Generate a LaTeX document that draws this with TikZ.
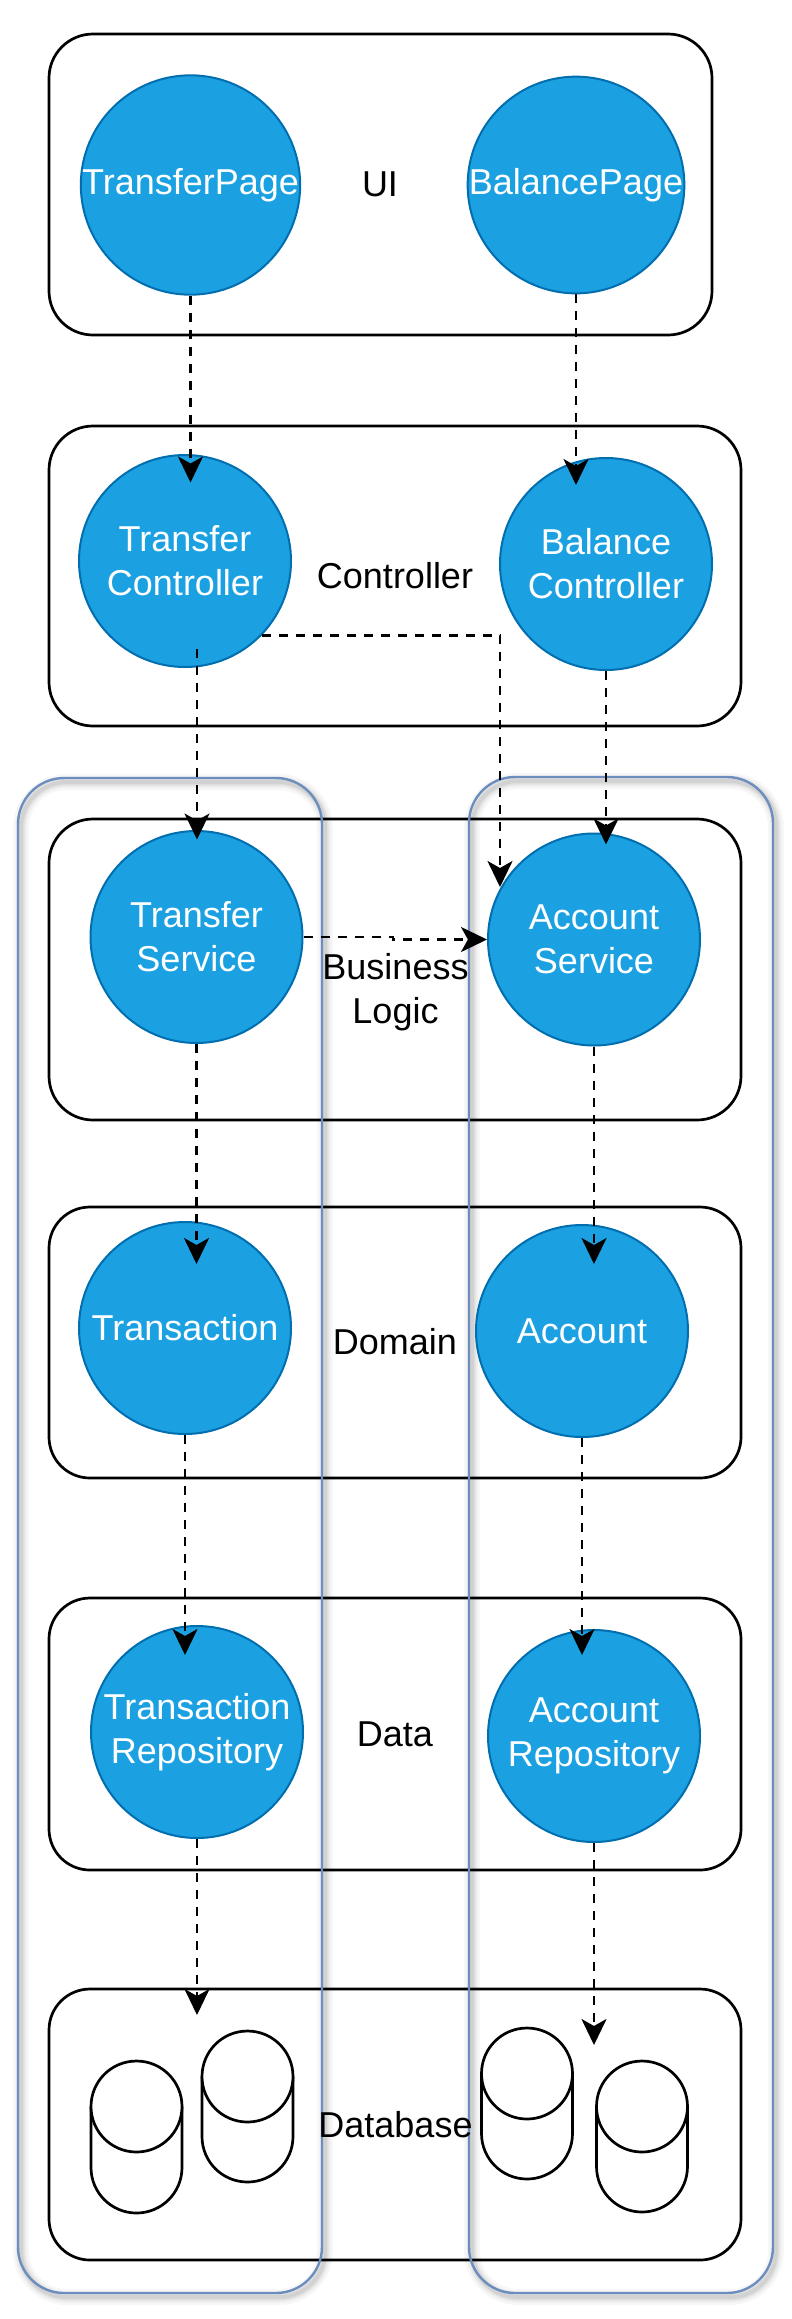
\documentclass[tikz,border=0pt]{standalone}
\usepackage{fontspec}
\setmainfont{Liberation Sans}
\usetikzlibrary{arrows.meta}
\definecolor{svcfill}{HTML}{1BA1E2}
\definecolor{svcline}{HTML}{006EAF}
\definecolor{grpblue}{HTML}{6C8EBF}
\tikzset{
  layerbox/.style={draw=black, line width=2.7pt, fill=white},
  grpbox/.style={draw=grpblue, line width=2.4pt, rounded corners=46pt},
  grpshadow/.style={draw=black, rounded corners=46pt},
  svc/.style={circle, draw=svcline, fill=svcfill, line width=2pt, minimum size=212pt,
    inner sep=0pt, text=white, align=center, font=\fontsize{36}{44}\selectfont},
  lbl/.style={text=black, align=center, inner sep=0pt, font=\fontsize{36}{44}\selectfont},
  flow/.style={line width=2.6pt, dash pattern=on 9pt off 8pt,
    -{Stealth[length=26pt, width=25pt, inset=7pt]}},
  cylbody/.style={draw=black, line width=2.7pt, fill=white},
}
\begin{document}
\begin{tikzpicture}[x=1pt,y=1pt]
\useasboundingbox (0,0) rectangle (792,-2319);
\fill[white] (0,0) rectangle (792,-2319);

% layer boxes
\draw[layerbox, rounded corners=44pt] (49,-34) rectangle (712,-335);
\draw[layerbox, rounded corners=44pt] (49,-426) rectangle (741,-726);
\draw[layerbox, rounded corners=44pt] (49,-819) rectangle (741,-1120);
\draw[layerbox, rounded corners=41pt] (49,-1207) rectangle (741,-1478);
\draw[layerbox, rounded corners=41pt] (49,-1598) rectangle (741,-1870);
\draw[layerbox, rounded corners=41pt] (49,-1989) rectangle (741,-2260);

% group containers with soft shadow
\foreach \w/\o in {16/0.03, 11/0.04, 7/0.05, 4/0.06}{
  \draw[grpshadow, line width=\w pt, opacity=\o] (21,-782) rectangle (325,-2297);
  \draw[grpshadow, line width=\w pt, opacity=\o] (472,-781) rectangle (776,-2297);
}
\draw[grpbox] (18,-778) rectangle (322,-2293);
\draw[grpbox] (469,-777) rectangle (773,-2293);

% layer labels
\node[lbl] (lui) at (380,-184) {UI};
\node[lbl] (lctrl) at (395,-576) {Controller};
\node[lbl] (lbiz) at (395.5,-992) {Business\\Logic};
\node[lbl] (ldom) at (395,-1342) {Domain};
\node[lbl] (ldata) at (395,-1734) {Data};
\node[lbl] (ldb) at (395.5,-2125) {Database};

% components
\node[svc] (tp) at (190.5,-185) {TransferPage};
\node[svc] (bp) at (576,-185) {BalancePage};
\node[svc] (tc) at (185,-561) {Transfer\\Controller};
\node[svc] (bc) at (606,-564) {Balance\\Controller};
\node[svc] (ts) at (196.5,-937) {Transfer\\Service};
\node[svc] (as) at (594,-939.5) {Account\\Service};
\node[svc] (tx) at (185,-1328) {Transaction};
\node[svc] (acc) at (582,-1331) {Account};
\node[svc] (tr) at (197,-1732) {Transaction\\Repository};
\node[svc] (ar) at (594,-1736) {Account\\Repository};

% database cylinders
\foreach \cx/\top/\bot in {136.5/2061/2213, 247.5/2031/2182, 527/2028/2179, 642/2061/2212}{
  \draw[cylbody] (\cx-45.5,-\top-45.5) -- (\cx-45.5,-\bot+45.5)
    arc[start angle=180, end angle=360, radius=45.5] -- (\cx+45.5,-\top-45.5);
  \draw[cylbody] (\cx,-\top-45.5) circle[radius=45.5];
}

% connector end points
\coordinate (e1) at (190.5,-482.5);
\coordinate (e2) at (576,-485);
\coordinate (s3) at (197,-649);
\coordinate (e3) at (197,-839.5);
\coordinate (e4) at (500,-887);
\coordinate (e5) at (606,-844.5);
\coordinate (m6) at (393,-936.5);
\coordinate (e7) at (196.5,-1264);
\coordinate (e8) at (594,-1264);
\coordinate (e9) at (185,-1655);
\coordinate (e10) at (582,-1655);
\coordinate (e11) at (197,-2015);
\coordinate (e12) at (594,-2045);

% connectors
\draw[flow] (tp.south) -- (e1);
\draw[flow] (bp.south) -- (e2);
\draw[flow] (s3) -- (e3);
\draw[flow] (tc.-44) -| (e4);
\draw[flow] (bc.south) -- (e5);
\draw[flow] (ts.east) -- (ts.east -| m6) -- (m6 |- as.west) -- (as.west);
\draw[flow] (ts.south) -- (e7);
\draw[flow] (as.south) -- (e8);
\draw[flow] (tx.south) -- (e9);
\draw[flow] (acc.south) -- (e10);
\draw[flow] (tr.south -| e11) -- (e11);
\draw[flow] (ar.south) -- (e12);
\end{tikzpicture}
\end{document}
